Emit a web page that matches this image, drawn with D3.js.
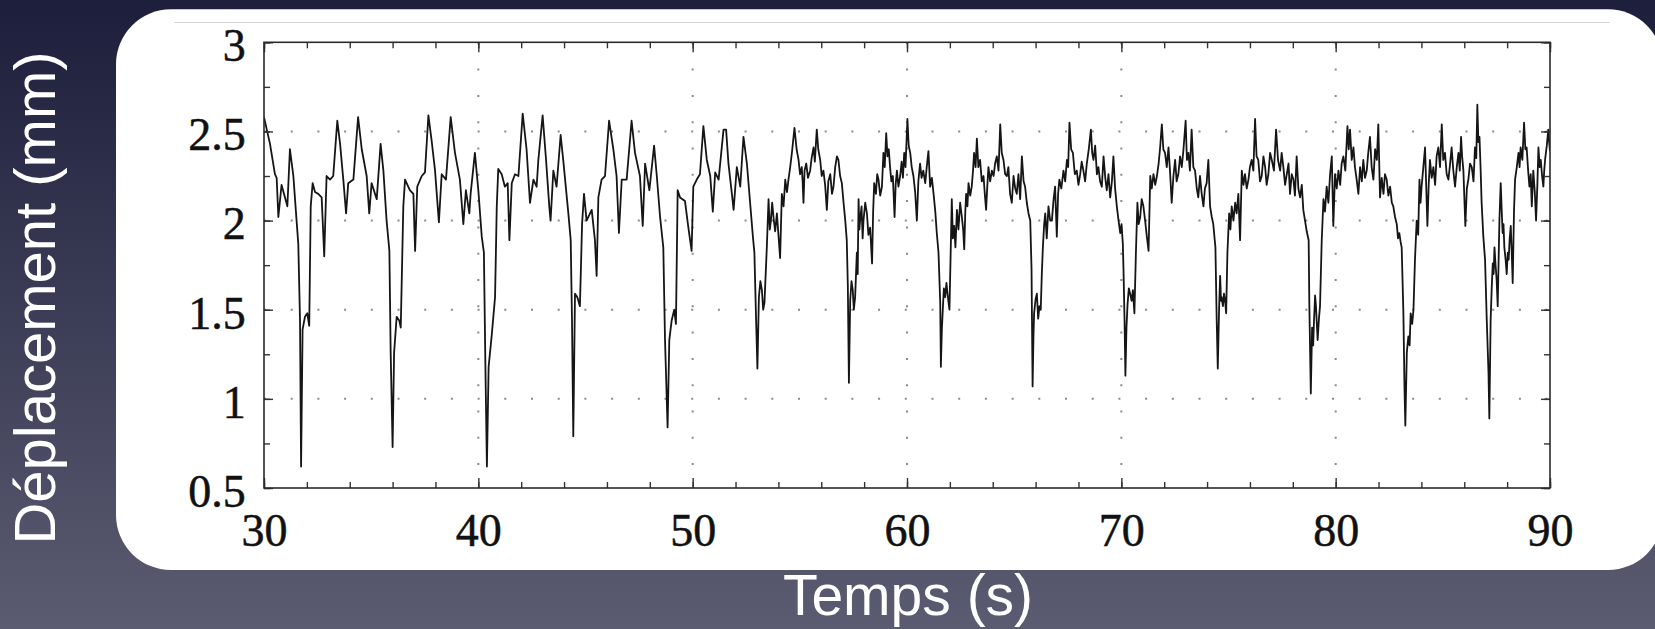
<!DOCTYPE html>
<html><head><meta charset="utf-8">
<script src="https://cdn.jsdelivr.net/npm/d3@7"></script>
<style>html,body{margin:0;padding:0;overflow:hidden;background:#2a2b48}</style>
</head><body>
<svg id="c" width="1655" height="629"></svg>
<script>
const xTickValues = [30,40,50,60,70,80,90];
const xTickLabels = ["30","40","50","60","70","80","90"];
const yTickValues = [0.5,1,1.5,2,2.5,3];
const yTickLabels = ["0.5","1","1.5","2","2.5","3"];
const xGridValues = [40,50,60,70,80];
const yGridValues = [1,1.5,2,2.5];
const xTitle = "Temps (s)";
const yTitle = "Déplacement (mm)";
// [time (s), displacement (mm)]
const displacement = [
[30.00,2.58],[30.28,2.43],[30.51,2.26],[30.59,2.24],[30.67,2.02],[30.82,2.20],[30.98,2.13],[31.09,2.08],[31.21,2.40],[31.37,2.25],[31.52,2.00],[31.60,1.87],[31.68,1.44],[31.73,0.62],[31.80,1.39],[31.91,1.46],[32.02,1.48],[32.11,1.41],[32.18,2.08],[32.27,2.21],[32.38,2.16],[32.53,2.15],[32.69,2.13],[32.81,1.80],[32.92,2.25],[33.08,2.23],[33.23,2.25],[33.42,2.56],[33.55,2.43],[33.70,2.23],[33.83,2.04],[33.93,2.21],[34.17,2.23],[34.39,2.58],[34.56,2.40],[34.79,2.25],[34.91,2.04],[35.02,2.21],[35.26,2.12],[35.44,2.43],[35.57,2.28],[35.72,2.00],[35.85,1.83],[35.91,1.26],[36.00,0.73],[36.07,1.26],[36.19,1.46],[36.31,1.44],[36.38,1.40],[36.50,2.08],[36.58,2.23],[36.81,2.17],[36.97,2.15],[37.05,1.83],[37.15,2.19],[37.36,2.25],[37.51,2.27],[37.67,2.59],[37.82,2.45],[37.98,2.28],[38.16,1.99],[38.29,2.26],[38.49,2.23],[38.71,2.58],[38.91,2.38],[39.14,2.23],[39.30,1.98],[39.42,2.17],[39.58,2.04],[39.64,2.15],[39.84,2.38],[40.00,2.17],[40.16,1.91],[40.26,1.82],[40.33,1.18],[40.40,0.62],[40.48,1.18],[40.62,1.35],[40.78,1.57],[40.86,2.08],[40.93,2.29],[41.09,2.26],[41.24,2.19],[41.37,2.21],[41.45,1.89],[41.56,2.21],[41.71,2.26],[41.87,2.25],[42.07,2.60],[42.25,2.40],[42.41,2.10],[42.57,2.23],[42.72,2.19],[42.80,2.34],[43.00,2.59],[43.16,2.34],[43.31,2.08],[43.37,2.00],[43.50,2.28],[43.65,2.19],[43.84,2.48],[43.96,2.34],[44.20,2.04],[44.31,1.89],[44.37,1.44],[44.43,0.79],[44.51,1.59],[44.62,1.57],[44.74,1.52],[44.84,1.98],[44.93,2.15],[45.05,2.00],[45.29,2.06],[45.44,1.89],[45.52,1.69],[45.60,2.13],[45.75,2.23],[45.91,2.25],[46.10,2.56],[46.30,2.40],[46.45,2.25],[46.56,1.93],[46.69,2.23],[46.92,2.23],[47.15,2.56],[47.31,2.38],[47.54,2.25],[47.67,1.97],[47.78,2.32],[47.98,2.17],[48.20,2.42],[48.32,2.26],[48.48,2.02],[48.63,1.85],[48.71,1.33],[48.83,0.84],[48.91,1.33],[49.02,1.44],[49.14,1.50],[49.22,1.42],[49.30,2.17],[49.41,2.13],[49.64,2.11],[49.80,1.96],[49.95,1.83],[50.03,2.19],[50.19,2.23],[50.34,2.26],[50.50,2.53],
[50.66,2.34],[50.82,2.25],[50.94,2.05],[51.05,2.27],[51.21,2.23],[51.44,2.51],[51.56,2.51],[51.67,2.32],[51.83,2.15],[51.91,2.06],[52.06,2.30],[52.22,2.19],[52.37,2.47],[52.53,2.32],[52.68,2.10],[52.81,1.91],[52.88,1.82],[52.96,1.44],[53.02,1.17],[53.09,1.57],[53.16,1.66],[53.23,1.61],[53.29,1.50],[53.35,1.54],[53.46,1.85],[53.54,2.12],[53.60,1.95],[53.65,2.00],[53.71,2.10],[53.77,2.02],[53.85,1.94],[53.93,2.04],[54.08,1.79],[54.16,2.15],[54.24,2.08],[54.32,2.23],[54.40,2.16],[54.47,2.23],[54.55,2.30],[54.63,2.38],[54.75,2.52],[54.85,2.40],[54.94,2.34],[55.01,2.26],
[55.09,2.30],[55.13,2.22],[55.17,2.10],[55.22,2.28],[55.30,2.32],[55.38,2.24],[55.48,2.28],[55.55,2.35],[55.64,2.41],[55.70,2.33],[55.79,2.51],[55.86,2.40],[55.95,2.34],[56.02,2.25],[56.10,2.28],[56.18,2.20],[56.26,2.06],[56.33,2.22],[56.42,2.26],[56.50,2.15],[56.57,2.19],[56.65,2.30],[56.73,2.36],[56.80,2.34],[56.88,2.25],[56.96,2.21],[57.04,2.10],[57.12,2.00],[57.19,1.89],[57.24,1.63],[57.29,1.09],[57.35,1.55],[57.41,1.66],[57.47,1.61],[57.52,1.50],[57.58,1.57],[57.66,1.82],[57.70,1.70],[57.74,2.12],[57.78,1.95],[57.81,2.00],[57.88,2.08],[57.93,1.90],[57.97,2.00],[58.05,2.10],[58.13,2.04],[58.20,1.92],[58.28,1.96],[58.37,1.76],[58.42,2.05],[58.47,2.21],[58.55,2.15],[58.61,2.26],[58.67,2.23],[58.75,2.14],[58.83,2.19],[58.90,2.38],[58.96,2.30],[59.03,2.49],[59.09,2.36],[59.15,2.40],[59.21,2.30],[59.27,2.22],[59.34,2.25],[59.42,2.02],[59.47,2.20],[59.53,2.28],[59.60,2.19],[59.68,2.25],[59.75,2.33],[59.81,2.24],[59.87,2.38],[59.93,2.30],[60.02,2.57],[60.08,2.42],[60.15,2.38],[60.22,2.30],[60.30,2.25],[60.38,2.16],[60.46,2.00],[60.53,2.22],[60.61,2.32],[60.68,2.24],[60.76,2.28],[60.85,2.21],[60.92,2.30],[61.00,2.39],[61.08,2.19],[61.16,2.24],[61.24,2.15],[61.32,2.05],[61.39,1.93],[61.47,1.82],[61.55,1.54],[61.58,1.18],[61.63,1.40],[61.67,1.50],[61.72,1.62],[61.78,1.57],[61.84,1.65],[61.89,1.59],[61.98,1.50],[62.05,1.89],[62.09,2.12],[62.14,1.90],[62.20,1.97],[62.26,1.85],[62.33,2.06],[62.40,1.95],[62.48,2.10],[62.56,2.02],[62.62,1.95],[62.67,1.84],[62.72,2.05],[62.76,2.15],[62.82,2.08],[62.87,2.21],[62.95,2.14],[63.02,2.19],[63.08,2.28],[63.13,2.38],[63.20,2.30],[63.26,2.46],[63.33,2.30],[63.41,2.34],[63.49,2.22],[63.57,2.25],[63.63,2.15],[63.69,2.06],[63.75,2.20],[63.80,2.30],[63.88,2.22],[63.96,2.28],[64.04,2.25],[64.11,2.32],[64.19,2.36],[64.27,2.28],[64.35,2.54],[64.42,2.38],[64.50,2.34],[64.58,2.26],[64.66,2.25],[64.73,2.30],[64.81,2.15],[64.89,2.10],[64.97,2.25],[65.05,2.18],[65.12,2.15],[65.20,2.26],[65.28,2.12],[65.36,2.36],[65.44,2.22],[65.51,2.19],[65.59,2.10],[65.67,2.04],[65.75,2.00],[65.81,1.73],[65.86,1.07],[65.90,1.35],[65.93,1.48],[66.00,1.56],[66.06,1.59],[66.12,1.45],[66.18,1.52],[66.24,1.50],[66.29,1.70],[66.34,1.85],[66.40,1.98],[66.45,2.04],[66.52,1.90],[66.60,2.08],[66.68,2.00],[66.76,2.00],[66.84,2.12],[66.91,2.19],[66.99,1.91],[67.05,2.15],[67.11,2.23],[67.20,2.18],[67.30,2.28],[67.38,2.22],[67.46,2.34],[67.52,2.30],[67.58,2.55],[67.66,2.40],[67.74,2.38],[67.83,2.26],[67.92,2.28],[68.00,2.20],[68.08,2.26],[68.15,2.33],[68.23,2.28],[68.31,2.22],[68.39,2.32],[68.48,2.40],[68.58,2.51],[68.64,2.38],[68.70,2.34],[68.78,2.42],[68.86,2.26],[68.93,2.30],[69.01,2.22],[69.09,2.19],[69.17,2.36],[69.25,2.24],[69.32,2.17],[69.40,2.26],[69.48,2.13],[69.56,2.22],[69.63,2.36],[69.71,2.18],[69.79,2.08],[69.87,2.00],[69.95,1.93],[70.01,1.98],[70.07,1.87],[70.10,1.73],[70.15,1.44],[70.19,1.13],[70.24,1.40],[70.29,1.53],[70.35,1.62],[70.41,1.59],[70.48,1.55],[70.54,1.61],[70.61,1.48],[70.68,1.82],[70.75,2.10],[70.81,1.98],[70.88,2.02],[70.95,2.12],[71.03,2.08],[71.11,2.00],[71.19,1.91],[71.27,1.83],[71.35,2.25],[71.42,2.18],[71.50,2.26],[71.58,2.20],[71.66,2.25],[71.74,2.32],[71.81,2.41],[71.89,2.54],[71.96,2.40],
[72.04,2.38],[72.12,2.30],[72.20,2.41],[72.27,2.28],[72.35,2.10],[72.43,2.25],[72.51,2.34],[72.58,2.22],[72.66,2.26],[72.74,2.36],[72.82,2.30],[72.90,2.40],[73.00,2.56],[73.06,2.34],[73.13,2.38],[73.20,2.28],[73.28,2.51],[73.36,2.30],[73.44,2.28],[73.52,2.18],[73.59,2.13],[73.67,2.25],[73.75,2.15],[73.83,2.08],[73.90,2.18],[73.98,2.21],[74.06,2.34],[74.14,2.08],[74.22,2.02],[74.29,1.98],[74.35,1.90],[74.39,1.85],[74.45,1.44],[74.50,1.17],[74.56,1.50],[74.61,1.69],[74.65,1.55],[74.68,1.57],[74.74,1.52],[74.79,1.59],[74.85,1.54],[74.89,1.48],[74.95,1.82],[75.03,2.04],[75.09,1.95],[75.15,2.08],[75.23,2.00],[75.31,2.10],[75.38,2.04],[75.46,2.15],[75.54,1.89],[75.62,2.28],[75.70,2.20],[75.77,2.26],[75.85,2.18],[75.93,2.23],[76.00,2.30],[76.08,2.34],[76.16,2.28],[76.24,2.57],[76.31,2.36],[76.39,2.34],[76.47,2.22],[76.55,2.25],[76.63,2.36],[76.71,2.30],[76.78,2.20],[76.86,2.26],[76.94,2.38],[77.02,2.34],[77.12,2.28],[77.22,2.51],[77.31,2.34],[77.41,2.28],[77.48,2.38],[77.56,2.30],[77.64,2.20],[77.72,2.26],[77.80,2.32],[77.87,2.15],[77.95,2.26],[78.03,2.23],[78.10,2.14],[78.18,2.36],[78.26,2.18],[78.34,2.13],[78.42,2.20],[78.49,2.06],[78.57,2.00],[78.65,1.94],[78.74,1.89],[78.77,1.54],[78.84,1.03],[78.90,1.40],[78.95,1.30],[78.99,1.44],[79.04,1.58],[79.08,1.52],[79.16,1.33],[79.22,1.45],[79.27,1.52],[79.35,1.89],[79.43,2.12],[79.50,2.05],[79.58,2.19],[79.66,2.10],[79.74,2.26],[79.82,2.36],[79.89,1.97],[79.97,2.26],[80.05,2.18],[80.13,2.28],[80.21,2.20],[80.28,2.32],[80.36,2.36],[80.45,2.28],[80.55,2.53],[80.61,2.40],[80.67,2.51],[80.75,2.34],[80.83,2.41],[80.90,2.30],[80.98,2.23],[81.06,2.15],[81.14,2.30],[81.22,2.22],[81.29,2.34],[81.37,2.24],[81.45,2.28],[81.52,2.38],[81.60,2.47],[81.68,2.30],[81.76,2.23],[81.84,2.40],[81.92,2.34],[81.99,2.54],[82.07,2.13],[82.15,2.24],[82.23,2.15],[82.30,2.26],[82.38,2.23],[82.46,2.14],[82.54,2.19],[82.62,2.10],[82.69,2.08],[82.77,2.02],[82.85,1.98],[82.91,1.90],[82.97,1.93],[83.03,1.88],[83.08,1.85],[83.16,1.48],[83.21,1.07],[83.25,0.85],[83.32,1.26],[83.39,1.35],[83.45,1.30],[83.50,1.48],[83.57,1.42],[83.63,1.50],[83.70,1.78],[83.78,2.00],[83.85,1.92],[83.91,2.23],[83.96,2.10],[84.01,2.19],[84.09,2.30],[84.17,2.41],[84.28,1.97],[84.34,2.20],[84.40,2.34],[84.48,2.24],[84.56,2.30],[84.64,2.20],[84.71,2.36],[84.79,2.41],[84.87,2.30],[84.95,2.54],[85.02,2.34],[85.10,2.38],[85.18,2.26],[85.26,2.23],[85.34,2.32],[85.41,2.41],[85.49,2.28],[85.57,2.19],[85.65,2.30],[85.73,2.38],[85.79,2.28],[85.85,2.47],[85.90,2.36],[85.96,2.28],[86.05,1.97],[86.12,2.18],[86.19,2.23],[86.27,2.32],[86.35,2.30],[86.43,2.22],[86.50,2.41],[86.56,2.35],[86.61,2.65],[86.66,2.44],[86.71,2.47],[86.76,2.30],[86.81,2.10],[86.89,1.91],[86.97,1.78],[87.05,1.44],[87.13,1.15],[87.17,0.89],[87.23,1.44],[87.28,1.62],[87.33,1.76],[87.37,1.70],[87.41,1.85],[87.46,1.75],[87.51,1.67],[87.56,1.52],[87.64,2.00],[87.70,2.21],[87.75,2.05],[87.79,1.93],[87.83,1.98],[87.87,1.85],[87.93,1.78],[87.98,1.70],[88.03,1.82],[88.07,1.78],[88.12,1.90],[88.17,1.97],[88.22,1.80],[88.26,1.65],[88.32,2.05],[88.37,2.23],[88.45,2.30],[88.53,2.38],[88.58,2.30],[88.63,2.41],[88.71,2.34],[88.79,2.55],[88.85,2.40],[88.91,2.41],[88.98,2.28],[89.04,2.19],[89.10,2.26],[89.15,2.08],[89.22,2.28],[89.29,2.16],[89.35,2.00],[89.41,2.20],[89.46,2.41],[89.52,2.30],[89.57,2.34],[89.63,2.25],[89.69,2.19],[89.73,2.28],[89.77,2.34],[89.85,2.42],[89.92,2.51],[89.96,2.44],[90.00,2.39]
];

const W = 1655, H = 629;
const svg = d3.select("#c");
const defs = svg.append("defs");
const bg = defs.append("linearGradient").attr("id","bg").attr("x1",0).attr("y1",0).attr("x2",0).attr("y2",1);
bg.append("stop").attr("offset","0%").attr("stop-color","#1d1e3b");
bg.append("stop").attr("offset","100%").attr("stop-color","#5b5b71");
svg.append("rect").attr("width",W).attr("height",H).attr("fill","url(#bg)");

// white card
svg.append("rect").attr("x",116).attr("y",9.3).attr("width",1663-116).attr("height",570-9.3)
  .attr("rx",55).attr("ry",55).attr("fill","#ffffff");
svg.append("line").attr("x1",174).attr("x2",1610).attr("y1",22.5).attr("y2",22.5)
  .attr("stroke","#d6d6d6").attr("stroke-width",1);

const L = 264, R = 1550, T = 42.3, B = 488;
const x = d3.scaleLinear().domain([30,90]).range([L,R]);
const y = d3.scaleLinear().domain([0.5,3]).range([B,T]);

defs.append("clipPath").attr("id","clip").append("rect")
  .attr("x",L).attr("y",T).attr("width",R-L).attr("height",B-T);

// dotted grid
const grid = svg.append("g");
grid.selectAll("line.gx").data(xGridValues).join("line")
  .attr("x1",d=>x(d)).attr("x2",d=>x(d)).attr("y1",T).attr("y2",B)
  .attr("stroke","#8a8a8a").attr("stroke-width",2).attr("stroke-dasharray","2 24.3");
grid.selectAll("line.gy").data(yGridValues).join("line")
  .attr("x1",L).attr("x2",R).attr("y1",d=>y(d)).attr("y2",d=>y(d))
  .attr("stroke","#8a8a8a").attr("stroke-width",2).attr("stroke-dasharray","2 24.7");

// data line
const line = d3.line().x(d=>x(d[0])).y(d=>y(d[1]));
svg.append("path").datum(displacement).attr("d",line)
  .attr("clip-path","url(#clip)")
  .attr("fill","none").attr("stroke","#151515").attr("stroke-width",1.8)
  .attr("stroke-linejoin","round");

// ticks (inward) on all sides
const xMinor = d3.range(30,90.001,2);
const yMinor = d3.range(0.5,3.001,0.25);
const tickColor = "#333";
function styleAxis(g){ g.select(".domain").remove(); g.selectAll(".tick line").attr("stroke",tickColor).attr("stroke-width",1.4); }
svg.append("g").attr("transform",`translate(0,${B})`).call(d3.axisBottom(x).tickValues(xMinor).tickSize(-6).tickFormat("")).call(styleAxis);
svg.append("g").attr("transform",`translate(0,${T})`).call(d3.axisTop(x).tickValues(xMinor).tickSize(-6).tickFormat("")).call(styleAxis);
svg.append("g").attr("transform",`translate(${L},0)`).call(d3.axisLeft(y).tickValues(yMinor).tickSize(-6).tickFormat("")).call(styleAxis);
svg.append("g").attr("transform",`translate(${R},0)`).call(d3.axisRight(y).tickValues(yMinor).tickSize(-6).tickFormat("")).call(styleAxis);
svg.append("g").attr("transform",`translate(0,${B})`).call(d3.axisBottom(x).tickValues(xTickValues).tickSize(-10).tickFormat("")).call(styleAxis);
svg.append("g").attr("transform",`translate(0,${T})`).call(d3.axisTop(x).tickValues(xTickValues).tickSize(-10).tickFormat("")).call(styleAxis);
svg.append("g").attr("transform",`translate(${L},0)`).call(d3.axisLeft(y).tickValues(yTickValues).tickSize(-9).tickFormat("")).call(styleAxis);
svg.append("g").attr("transform",`translate(${R},0)`).call(d3.axisRight(y).tickValues(yTickValues).tickSize(-9).tickFormat("")).call(styleAxis);

// frame
svg.append("rect").attr("x",L).attr("y",T).attr("width",R-L).attr("height",B-T)
  .attr("fill","none").attr("stroke","#2a2a2a").attr("stroke-width",1.6);

// tick labels
const labFont = "'Liberation Serif','Times New Roman',serif";
const xa = svg.append("g").attr("transform",`translate(0,${B})`)
  .call(d3.axisBottom(x).tickValues(xTickValues).tickSize(0).tickPadding(25.3).tickFormat((d,i)=>xTickLabels[i]));
xa.select(".domain").remove();
xa.selectAll("text").attr("font-family",labFont).attr("font-size",46).attr("fill","#111")
  .attr("stroke","#111").attr("stroke-width",0.5);
const ya = svg.append("g").attr("transform",`translate(${L},0)`)
  .call(d3.axisLeft(y).tickValues(yTickValues).tickSize(0).tickPadding(18.3).tickFormat((d,i)=>yTickLabels[i]));
ya.select(".domain").remove();
ya.selectAll("text").attr("font-family",labFont).attr("font-size",46).attr("fill","#111").attr("dy","0.4em")
  .attr("stroke","#111").attr("stroke-width",0.5);

// titles
const titleFont = "'Liberation Sans',Arial,Helvetica,sans-serif";
svg.append("text").attr("x",908).attr("y",615).attr("text-anchor","middle")
  .attr("font-family",titleFont).attr("font-size",57).attr("fill","#ffffff").text(xTitle);
svg.append("text").attr("transform","translate(55,298) rotate(-90)").attr("text-anchor","middle")
  .attr("font-family",titleFont).attr("font-size",58).attr("fill","#ffffff").text(yTitle);
</script>
</body></html>
